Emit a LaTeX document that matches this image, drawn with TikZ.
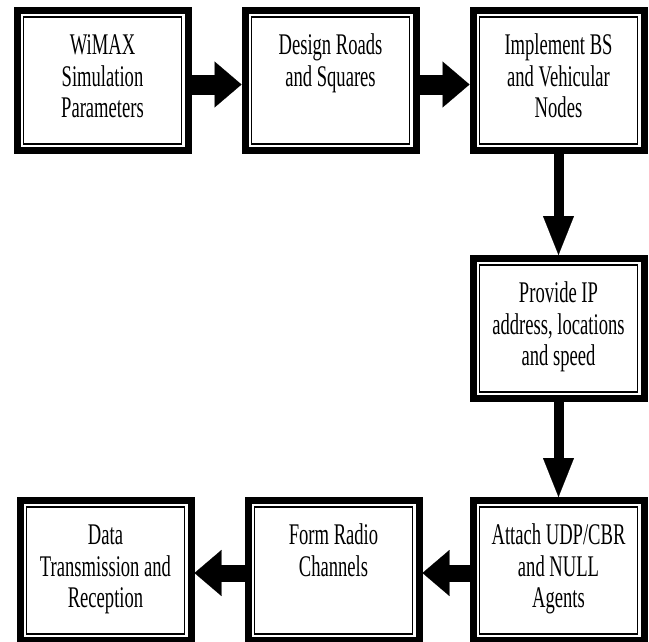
\documentclass[tikz,border=0pt]{standalone}
\usepackage{fontspec}
\usepackage{tikz}
\usetikzlibrary{arrows.meta}
\newfontfamily\boxfont[FakeStretch=0.62]{Liberation Serif}

\begin{document}
\begin{tikzpicture}[node distance=228pt,
                    stage/.style={draw,line width=7pt,minimum width=171pt,minimum height=140pt,
                      inner sep=0pt,text width=165pt,align=flush center,text height=44pt,text depth=96pt,
                      font=\boxfont\fontsize{30}{31.5}\selectfont},
                    hflow/.style={-{Triangle[length=27pt,width=46pt,line width=0.1pt]},line width=20pt},
                    vflow/.style={-{Triangle[length=39pt,width=31pt,line width=0.1pt]},line width=10pt}]
  \useasboundingbox (0,0) rectangle (649pt,-641pt);
  \clip (0,0) rectangle (649pt,-641pt);

  \node[stage] (wimax) at (102.5pt,-80.5pt) {WiMAX\\Simulation\\Parameters};
  \node[stage] (roads) [right of=wimax] {Design Roads\\and Squares};
  \node[stage] (implement) [right of=roads] {Implement BS\\and Vehicular\\Nodes};
  \node[stage] (provide) [below of=implement,node distance=248pt] {Provide IP\\address, locations\\and speed};
  \node[stage] (attach) [below of=provide,node distance=242pt] {Attach UDP/CBR\\and NULL\\Agents};
  \node[stage] (radio) [left of=attach,node distance=225pt] {Form Radio\\Channels};
  \node[stage] (data) [left of=radio] {Data\\Transmission and\\Reception};

  % thin inner frame
  \foreach \n in {wimax,roads,implement,provide,attach,radio,data}
    \draw[line width=1.6pt] ([shift={(10pt,-10pt)}]\n.north west) rectangle ([shift={(-10pt,10pt)}]\n.south east);

  \draw[hflow] ([yshift=-4pt]wimax.east) -- ([yshift=-4pt]roads.west);
  \draw[hflow] ([yshift=-4pt]roads.east) -- ([yshift=-4pt]implement.west);
  \draw[vflow] (implement.south) -- (provide.north);
  \draw[vflow] (provide.south) -- (attach.north);
  \draw[hflow,line width=17pt] ([yshift=-2.5pt]attach.west) -- ([yshift=-2.5pt]radio.east);
  \draw[hflow,line width=17pt] ([yshift=-2.5pt]radio.west) -- ([yshift=-2.5pt]data.east);
\end{tikzpicture}
\end{document}
